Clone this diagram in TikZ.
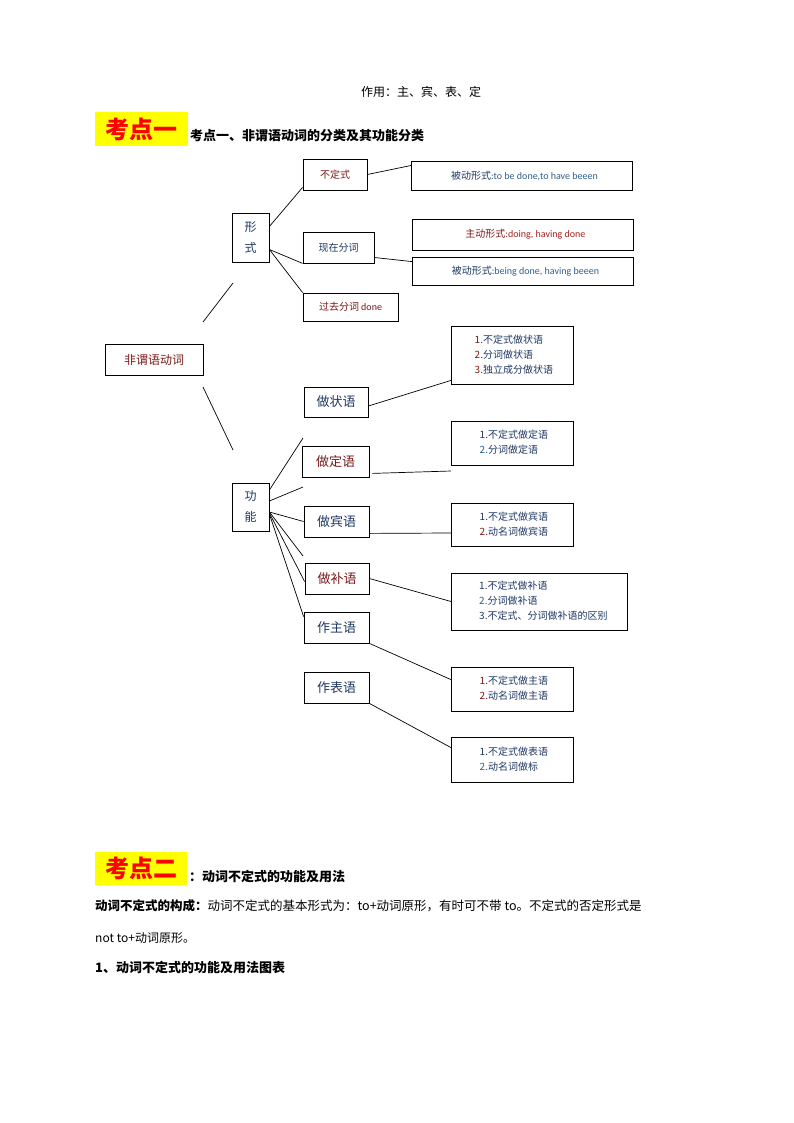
\documentclass[tikz,border=0pt]{standalone}
\usepackage{fontspec}
\setmainfont{Noto Sans CJK SC}
\newfontfamily\lib{Carlito}
\usetikzlibrary{calc}
\definecolor{navy}{HTML}{1F3864}
\definecolor{dred}{HTML}{7B1A1A}
\definecolor{eng}{HTML}{2F5F8F}
\definecolor{rred}{HTML}{A52020}
\definecolor{ylw}{HTML}{FFFF00}
\tikzset{
 bx/.style={draw,line width=0.8pt,inner sep=0pt,font=\fontsize{10}{12}\selectfont},
 lab/.style={bx,font=\fontsize{13}{15}\selectfont},
 lst/.style={bx,align=left,font=\fontsize{10}{15}\selectfont},
 ln/.style={line width=0.7pt},
 txt/.style={anchor=base west,inner sep=0pt},
}
\newcommand{\nm}[2]{\textcolor{#1}{#2.}}
\begin{document}
\begin{tikzpicture}[x=1pt,y=-1pt]
\useasboundingbox[fill=white] (0,0) rectangle (794,1123);
\node[txt,font=\fontsize{12}{14}\selectfont] (t0) at (361,97) {作用：主、宾、表、定};
% heading 1
\node[fill=ylw,minimum width=93pt,minimum height=34pt,inner sep=0pt,text=red,font=\fontsize{24}{26}\selectfont\bfseries] (k1) at (141.5,129) {考点一};
\node[txt,font=\fontsize{13}{15}\selectfont\bfseries] (h1) at (190,141) {考点一、非谓语动词的分类及其功能分类};
% form branch
\node[bx,minimum width=64pt,minimum height=31pt,text=dred] (bdx) at (335,174.5) {不定式};
\node[bx,minimum width=221pt,minimum height=29pt,anchor=west] (p1) at (411,175.5) {\hspace{5pt}\textcolor{navy}{被动形式}\textcolor{eng}{\lib:to be done,to have beeen}\hfill};
\node[lab,minimum width=37pt,minimum height=49pt,align=center,text=navy,font=\fontsize{12}{21}\selectfont] (xs) at (250.5,237.5) {形\\式};
\node[bx,minimum width=71pt,minimum height=31pt,text=navy] (xz) at (338.5,247.5) {现在分词};
\node[bx,minimum width=221pt,minimum height=31pt,anchor=west] (p2) at (412,234.5) {\hspace{5pt}\textcolor{dred}{主动形式}\textcolor{rred}{\lib:doing, having done}\hfill};
\node[bx,minimum width=221pt,minimum height=28pt,anchor=west] (p3) at (412,271) {\hspace{5pt}\textcolor{navy}{被动形式}\textcolor{eng}{\lib:being done, having beeen}\hfill};
\node[bx,minimum width=95pt,minimum height=28pt,text=dred] (gq) at (350.5,307) {过去分词 {\lib done}};
% root
\node[lab,minimum width=98pt,minimum height=31pt,text=dred,font=\fontsize{12}{14}\selectfont] (root) at (154,359.5) {非谓语动词};
\coordinate (f1a) at (203,322); \coordinate (f1b) at (233,283);
\coordinate (f2a) at (203,387); \coordinate (f2b) at (233,450);
\draw[ln] (f1a) -- (f1b);
\draw[ln] (f2a) -- (f2b);
% function
\node[lab,minimum width=37pt,minimum height=48pt,align=center,text=navy,font=\fontsize{12}{21}\selectfont] (gn) at (250.5,507) {功\\能};
\node[lab,minimum width=64pt,minimum height=30pt,text=navy] (zy) at (336,402) {做状语};
\node[lab,minimum width=67pt,minimum height=31pt,text=dred] (dy) at (335.5,461.5) {做定语};
\node[lab,minimum width=65pt,minimum height=31pt,text=navy] (by) at (336.5,521.5) {做宾语};
\node[lab,minimum width=64pt,minimum height=31pt,text=dred] (bu) at (337,578.5) {做补语};
\node[lab,minimum width=65pt,minimum height=31pt,text=navy] (zz) at (336.5,627.5) {作主语};
\node[lab,minimum width=65pt,minimum height=31pt,text=navy] (zb) at (336.5,687.5) {作表语};
% lists
\node[lst,minimum width=122pt,minimum height=58pt,anchor=west,text=navy] (l1) at (451,355) {\hspace{8pt}\begin{tabular}{@{}l@{}}\nm{dred}{1}不定式做状语\\\nm{dred}{2}分词做状语\\\nm{dred}{3}独立成分做状语\end{tabular}\hspace{5pt}};
\node[lst,minimum width=122pt,minimum height=44pt,anchor=west,text=navy] (l2) at (451,443) {\hspace{8pt}\begin{tabular}{@{}l@{}}\nm{navy}{1}不定式做定语\\\nm{eng}{2}分词做定语\end{tabular}\hspace{5pt}};
\node[lst,minimum width=122pt,minimum height=43pt,anchor=west,text=navy] (l3) at (451,524.5) {\hspace{8pt}\begin{tabular}{@{}l@{}}\nm{navy}{1}不定式做宾语\\\nm{dred}{2}动名词做宾语\end{tabular}\hspace{5pt}};
\node[lst,minimum width=176pt,minimum height=57pt,anchor=west,text=navy] (l4) at (451,601.5) {\hspace{8pt}\begin{tabular}{@{}l@{}}\nm{navy}{1}不定式做补语\\\nm{eng}{2}分词做补语\\\nm{navy}{3}不定式、分词做补语的区别\end{tabular}\hfill};
\node[lst,minimum width=122pt,minimum height=44pt,anchor=west,text=navy] (l5) at (451,689) {\hspace{8pt}\begin{tabular}{@{}l@{}}\nm{dred}{1}不定式做主语\\\nm{dred}{2}动名词做主语\end{tabular}\hspace{5pt}};
\node[lst,minimum width=122pt,minimum height=45pt,anchor=west,text=navy] (l6) at (451,759.5) {\hspace{8pt}\begin{tabular}{@{}l@{}}\nm{navy}{1}不定式做表语\\\nm{eng}{2}动名词做标\end{tabular}\hspace{5pt}};
% connectors form
\draw[ln] ($(xs.east)+(0,-11)$) -- ($(bdx.south west)+(0,-3)$);
\draw[ln] ($(xs.east)+(0,12)$) -- (xz.south west);
\draw[ln] ($(xs.east)+(0,12)$) -- (gq.north west);
\draw[ln] (bdx.east) -- ($(p1.west)+(0,-10)$);
\draw[ln] ($(xz.east)+(0,10)$) -- ($(p3.north west)+(0,5)$);
% connectors function
\coordinate (g1) at (303,438); \coordinate (g2) at (303,487); \coordinate (g3) at (303,556);
\coordinate (e2) at (451,471);
\draw[ln] ($(gn.east)+(0,-17)$) -- (g1);
\draw[ln] ($(gn.east)+(0,-6)$) -- (g2);
\draw[ln] ($(gn.east)+(0,5)$) -- (by.west);
\draw[ln] ($(gn.east)+(0,5)$) -- (g3);
\draw[ln] ($(gn.east)+(0,6)$) -- ($(bu.west)+(0,3)$);
\draw[ln] ($(gn.east)+(0,7)$) -- ($(zz.north west)+(0,5)$);
\draw[ln] ($(zy.east)+(0,4)$) -- ($(l1.south west)+(0,-4)$);
\draw[ln] ($(dy.south east)+(3,-4)$) -- (e2);
\draw[ln] ($(by.south east)+(0,-4)$) -- ($(l3.west)+(0,8.5)$);
\draw[ln] (bu.east) -- (l4.west);
\draw[ln] (zz.south east) -- ($(l5.north west)+(0,13)$);
\draw[ln] (zb.south east) -- ($(l6.north west)+(0,11)$);
% heading 2
\node[fill=ylw,minimum width=92pt,minimum height=33pt,inner sep=0pt,text=red,font=\fontsize{24}{26}\selectfont\bfseries] (k2) at (141,868.5) {考点二};
\node[txt,font=\fontsize{13}{15}\selectfont\bfseries] (h2) at (189,881) {：动词不定式的功能及用法};
\node[txt,font=\fontsize{12.5}{15}\selectfont] (p4) at (95,910) {\textbf{动词不定式的构成：}动词不定式的基本形式为：to+动词原形，有时可不带 to。不定式的否定形式是};
\node[txt,font=\fontsize{12}{15}\selectfont] (p5) at (95,942) {not to+动词原形。};
\node[txt,font=\fontsize{13}{15}\selectfont\bfseries] (p6) at (95,972) {1、动词不定式的功能及用法图表};
\end{tikzpicture}
\end{document}
